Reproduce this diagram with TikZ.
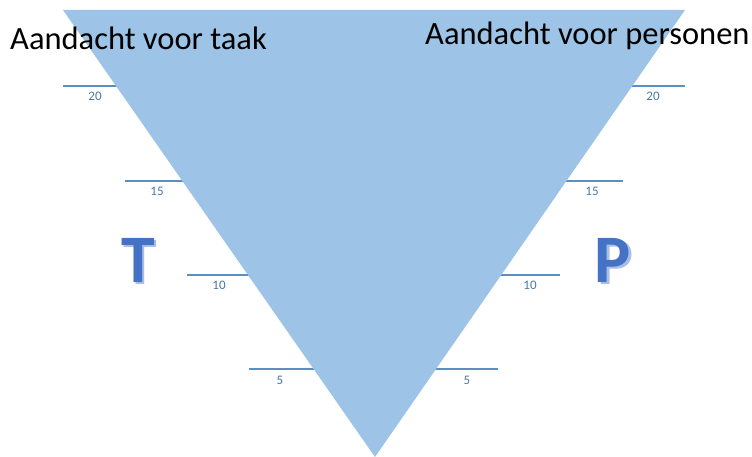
\documentclass[tikz,border=0pt]{standalone}
\usepackage{fontspec}
\setmainfont{Carlito}
\definecolor{triblue}{HTML}{9DC3E6}
\definecolor{tickblue}{HTML}{5B8FC0}
\definecolor{labelblue}{HTML}{4A77A3}
\definecolor{letterblue}{HTML}{4472C4}
\definecolor{shadowblue}{HTML}{A9BEE6}
\newcommand{\shadowletter}[1]{\rlap{\raisebox{-2pt}{\kern2.5pt\textcolor{shadowblue}{#1}}}#1}
\begin{document}
\begin{tikzpicture}[x=1pt,y=-1pt,
  tick/.style={draw=tickblue, line width=1.2pt},
  ticklabel/.style={text=labelblue, font=\fontsize{13}{15}\selectfont, inner sep=0pt, anchor=center},
  titletext/.style={font=\fontsize{32.5}{38}\selectfont, inner sep=0pt, anchor=base west},
  bigletter/.style={font=\bfseries\fontsize{68}{80}\selectfont, inner sep=0pt, anchor=base, text=letterblue}]
\useasboundingbox (0,0) rectangle (752,457);
% tick lines (behind triangle)
\coordinate (l20a) at (63,86);  \coordinate (l20b) at (122,86);
\coordinate (l15a) at (125,181); \coordinate (l15b) at (188,181);
\coordinate (l10a) at (187,275); \coordinate (l10b) at (252,275);
\coordinate (l5a) at (249,369);  \coordinate (l5b) at (318,369);
\coordinate (r20a) at (627,86);  \coordinate (r20b) at (685,86);
\coordinate (r15a) at (561,181); \coordinate (r15b) at (623,181);
\coordinate (r10a) at (496,275); \coordinate (r10b) at (560,275);
\coordinate (r5a) at (431,369);  \coordinate (r5b) at (498,369);
\foreach \n in {l20,l15,l10,l5,r20,r15,r10,r5} {\draw[tick] (\n a) -- (\n b);}
% triangle
\coordinate (tl) at (63,10);
\coordinate (tr) at (685,10);
\coordinate (bt) at (375,457);
\fill[triblue] (tl) -- (tr) -- (bt) -- cycle;
% labels
\node[ticklabel] (n20l) at (95,96.5) {20};
\node[ticklabel] (n15l) at (157,191.5) {15};
\node[ticklabel] (n10l) at (219,285) {10};
\node[ticklabel] (n5l) at (280,380) {5};
\node[ticklabel] (n20r) at (653,96.5) {20};
\node[ticklabel] (n15r) at (592,191.5) {15};
\node[ticklabel] (n10r) at (530,285) {10};
\node[ticklabel] (n5r) at (467,380) {5};
% titles
\node[titletext] (tt) at (10,50) {Aandacht voor taak};
\node[titletext] (tp) at (425,45) {Aandacht voor personen};
% T and P
\node[bigletter] (T) at (138,282) {\shadowletter{T}};
\node[bigletter] (P) at (613,282) {\shadowletter{P}};
\end{tikzpicture}
\end{document}
